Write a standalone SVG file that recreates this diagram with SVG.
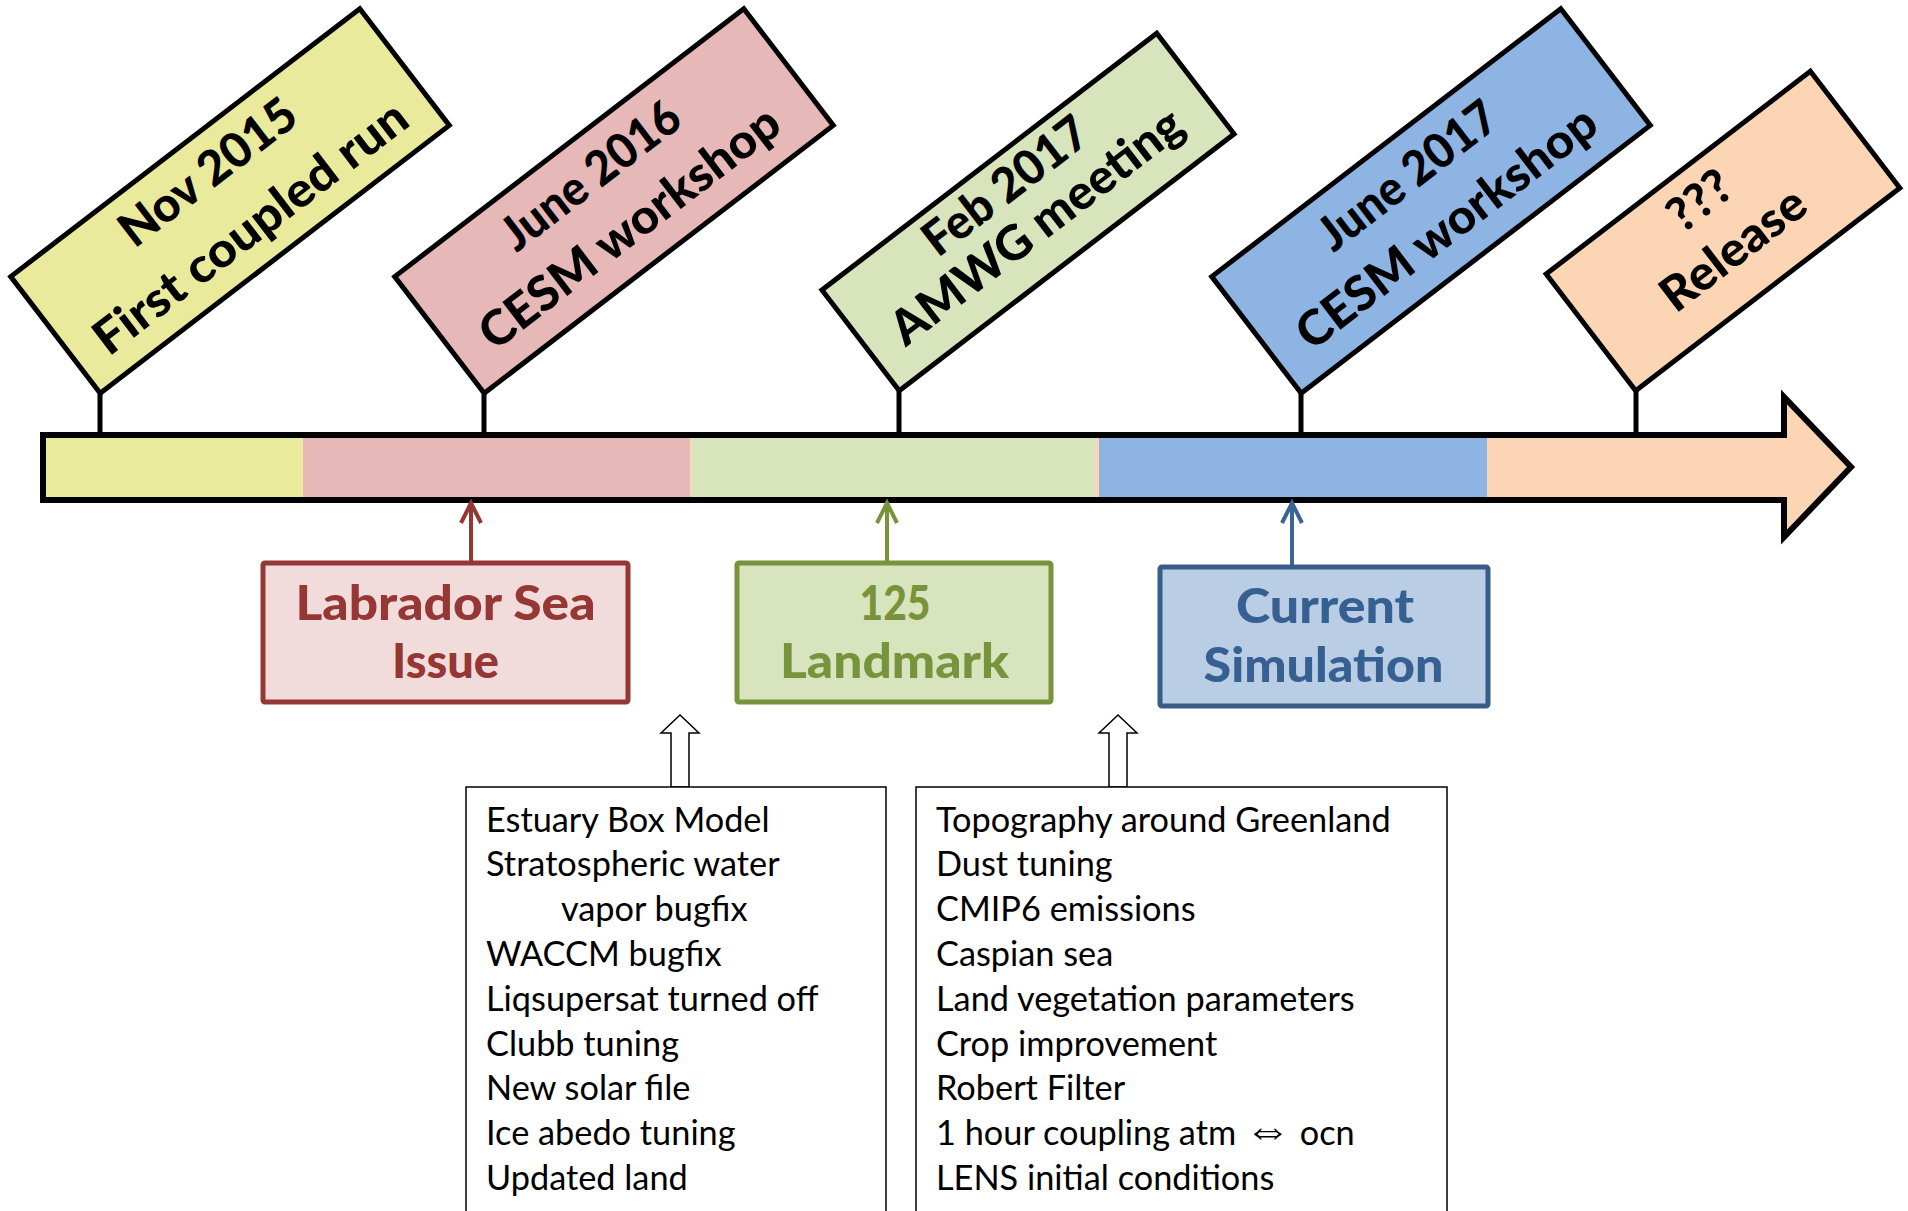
<svg xmlns="http://www.w3.org/2000/svg" width="1908" height="1211" viewBox="0 0 1908 1211">
<style>
.flag rect{stroke:#000;stroke-width:5;stroke-linejoin:miter}
.ft{font-family:Lato,"Open Sans","Liberation Sans",sans-serif;font-weight:900;font-size:48px;fill:#000;text-anchor:middle}
.stem{stroke:#000;stroke-width:5}
.lbl{stroke-width:5}
.lt{font-family:Lato,"Open Sans","Liberation Sans",sans-serif;font-weight:900;font-size:47px;text-anchor:middle}
.list{font-family:Lato,"Open Sans","Liberation Sans",sans-serif;font-size:34.3px;fill:#000}
.sym{font-family:"DejaVu Sans",sans-serif;font-weight:200;font-size:46px}
.hollow{fill:#fff;stroke:#000;stroke-width:1.5}
</style>
<rect width="1908" height="1211" fill="#fff"/>

<g id="timeline-bar">
<path d="M43,435 H1784 V397 L1851,467 L1784,537 V500 H43 Z" fill="#FCD5B4"/>
<rect x="43" y="435" width="260" height="65" fill="#EAEA9C"/>
<rect x="303" y="435" width="387" height="65" fill="#E6B8B7"/>
<rect x="691.5" y="435" width="403.5" height="65" fill="#D8E4BC"/>
<rect x="1099" y="435" width="388" height="65" fill="#8DB4E2"/>
<path d="M43,435 H1784 V397 L1851,467 L1784,537 V500 H43 Z" fill="none" stroke="#000" stroke-width="6"/>
</g>

<g id="flag-nov2015" class="flag">
<line class="stem" x1="100" y1="393" x2="100" y2="435"/>
<g transform="translate(230,201) rotate(-37.5)">
<rect x="-220" y="-73.5" width="440" height="147" fill="#EAEA9C"/>
<text class="ft" x="0" y="-20" textLength="210" lengthAdjust="spacingAndGlyphs">Nov 2015</text>
<text class="ft" x="0" y="50" textLength="382" lengthAdjust="spacingAndGlyphs">First coupled run</text>
</g>
</g>

<g id="flag-june2016" class="flag">
<line class="stem" x1="484" y1="393" x2="484" y2="435"/>
<g transform="translate(614,201) rotate(-37.5)">
<rect x="-220" y="-73.5" width="440" height="147" fill="#E6B8B7"/>
<text class="ft" x="-3" y="-18" textLength="212" lengthAdjust="spacingAndGlyphs">June 2016</text>
<text class="ft" x="-4" y="47" textLength="365" lengthAdjust="spacingAndGlyphs">CESM workshop</text>
</g>
</g>

<g id="flag-feb2017" class="flag">
<line class="stem" x1="899" y1="391" x2="899" y2="435"/>
<g transform="translate(1028,212) rotate(-37.5)">
<rect x="-211" y="-63.5" width="422" height="127" fill="#D8E4BC"/>
<text class="ft" x="-2" y="-18" textLength="195" lengthAdjust="spacingAndGlyphs">Feb 2017</text>
<text class="ft" x="-2" y="33" textLength="355" lengthAdjust="spacingAndGlyphs">AMWG meeting</text>
</g>
</g>

<g id="flag-june2017" class="flag">
<line class="stem" x1="1301" y1="393" x2="1301" y2="435"/>
<g transform="translate(1431,201) rotate(-37.5)">
<rect x="-220" y="-73.5" width="440" height="147" fill="#8DB4E2"/>
<text class="ft" x="-3" y="-18" textLength="212" lengthAdjust="spacingAndGlyphs">June 2017</text>
<text class="ft" x="-4" y="47" textLength="365" lengthAdjust="spacingAndGlyphs">CESM workshop</text>
</g>
</g>

<g id="flag-release" class="flag">
<line class="stem" x1="1636" y1="391" x2="1636" y2="435"/>
<g transform="translate(1723,231) rotate(-37.5)">
<rect x="-166.5" y="-73.5" width="333" height="147" fill="#FCD5B4"/>
<text class="ft" x="0" y="-22" textLength="68" lengthAdjust="spacingAndGlyphs">???</text>
<text class="ft" x="-3" y="37" textLength="170" lengthAdjust="spacingAndGlyphs">Release</text>
</g>
</g>

<g id="connectors" fill="none" stroke-width="4">
<g stroke="#953735">
<line x1="471" y1="563" x2="471" y2="505"/>
<polyline points="461,523 471,503 481,523"/>
</g>
<g stroke="#77933C">
<line x1="887" y1="563" x2="887" y2="505"/>
<polyline points="877,523 887,503 897,523"/>
</g>
<g stroke="#3A6496">
<line x1="1292" y1="567" x2="1292" y2="505"/>
<polyline points="1282,523 1292,503 1302,523"/>
</g>
<polygon class="hollow" points="680,715 699,733 689,733 689,787 671,787 671,733 661,733"/>
<polygon class="hollow" points="1118,715 1137,733 1127,733 1127,787 1109,787 1109,733 1099,733"/>
</g>

<g id="box-labrador">
<rect class="lbl" x="263" y="563" width="365" height="139" rx="2" fill="#F2DCDB" stroke="#953735"/>
<text class="lt" x="445.5" y="620" fill="#953735" textLength="300" lengthAdjust="spacingAndGlyphs">Labrador Sea</text>
<text class="lt" x="445.5" y="678" fill="#953735" textLength="107" lengthAdjust="spacingAndGlyphs">Issue</text>
</g>

<g id="box-landmark">
<rect class="lbl" x="737" y="563" width="314" height="139" rx="2" fill="#D7E4BD" stroke="#77933C"/>
<text class="lt" x="895" y="620" fill="#77933C" textLength="71" lengthAdjust="spacingAndGlyphs">125</text>
<text class="lt" x="894.5" y="678" fill="#77933C" textLength="229" lengthAdjust="spacingAndGlyphs">Landmark</text>
</g>

<g id="box-current">
<rect class="lbl" x="1160" y="567" width="328" height="139" rx="2" fill="#B9CDE5" stroke="#385D8A"/>
<text class="lt" x="1325" y="623" fill="#376092" textLength="178" lengthAdjust="spacingAndGlyphs">Current</text>
<text class="lt" x="1323.5" y="682" fill="#376092" textLength="240" lengthAdjust="spacingAndGlyphs">Simulation</text>
</g>

<g id="list-left">
<rect x="466" y="787" width="420" height="440" fill="#fff" stroke="#000" stroke-width="1.5"/>
<text class="list" x="486" y="831.5">Estuary Box Model</text>
<text class="list" x="486" y="876.3">Stratospheric water</text>
<text class="list" x="561" y="921.1">vapor bugfix</text>
<text class="list" x="486" y="965.9">WACCM bugfix</text>
<text class="list" x="486" y="1010.7">Liqsupersat turned off</text>
<text class="list" x="486" y="1055.5">Clubb tuning</text>
<text class="list" x="486" y="1100.3">New solar file</text>
<text class="list" x="486" y="1145.1">Ice abedo tuning</text>
<text class="list" x="486" y="1189.9">Updated land</text>
</g>

<g id="list-right">
<rect x="916" y="787" width="531" height="440" fill="#fff" stroke="#000" stroke-width="1.5"/>
<text class="list" x="936" y="831.5">Topography around Greenland</text>
<text class="list" x="936" y="876.3">Dust tuning</text>
<text class="list" x="936" y="921.1">CMIP6 emissions</text>
<text class="list" x="936" y="965.9">Caspian sea</text>
<text class="list" x="936" y="1010.7">Land vegetation parameters</text>
<text class="list" x="936" y="1055.5">Crop improvement</text>
<text class="list" x="936" y="1100.3">Robert Filter</text>
<text class="list" x="936" y="1145.1">1 hour coupling atm <tspan class="sym">⇔</tspan> ocn</text>
<text class="list" x="936" y="1189.9">LENS initial conditions</text>
</g>
</svg>
